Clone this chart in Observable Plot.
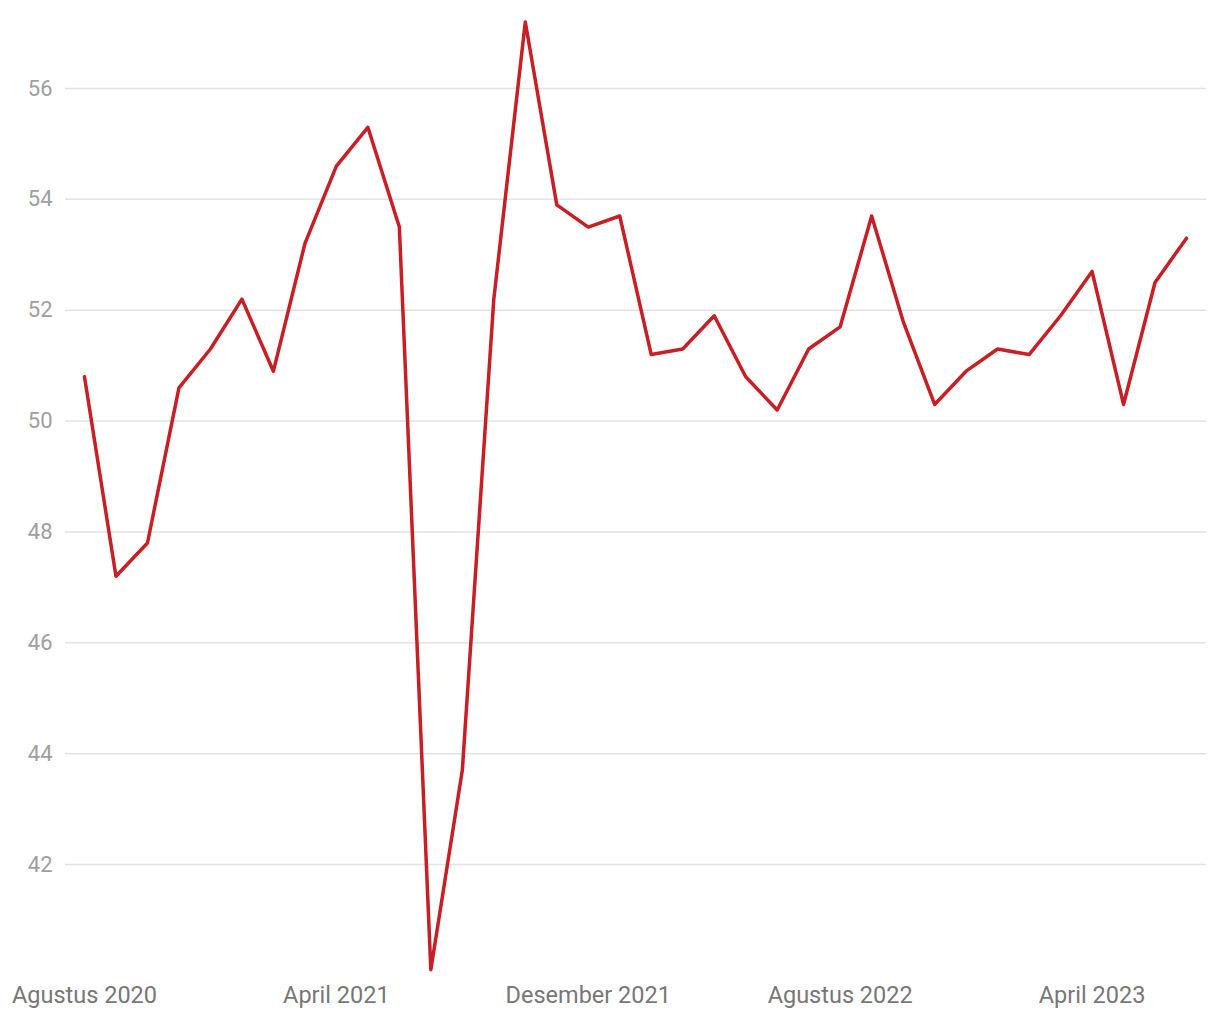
<!DOCTYPE html>
<html>
<head>
<meta charset="utf-8">
<script src="https://cdn.jsdelivr.net/npm/d3@7"></script>
<script src="https://cdn.jsdelivr.net/npm/@observablehq/plot@0.6"></script>
<style>
  html, body { margin: 0; padding: 0; background: #fff; }
  #chart { width: 1220px; height: 1020px; }
  svg { font-family: Roboto, sans-serif; }
</style>
</head>
<body>
<div id="chart"></div>
<script>
const months = [
  "Agustus 2020","September 2020","Oktober 2020","November 2020","Desember 2020",
  "Januari 2021","Februari 2021","Maret 2021","April 2021","Mei 2021","Juni 2021","Juli 2021",
  "Agustus 2021","September 2021","Oktober 2021","November 2021","Desember 2021",
  "Januari 2022","Februari 2022","Maret 2022","April 2022","Mei 2022","Juni 2022","Juli 2022",
  "Agustus 2022","September 2022","Oktober 2022","November 2022","Desember 2022",
  "Januari 2023","Februari 2023","Maret 2023","April 2023","Mei 2023","Juni 2023","Juli 2023"
];
const values = [
  50.8, 47.2, 47.8, 50.6, 51.3,
  52.2, 50.9, 53.2, 54.6, 55.3, 53.5, 40.1,
  43.7, 52.2, 57.2, 53.9, 53.5,
  53.7, 51.2, 51.3, 51.9, 50.8, 50.2, 51.3,
  51.7, 53.7, 51.8, 50.3, 50.9,
  51.3, 51.2, 51.9, 52.7, 50.3, 52.5, 53.3
];
const yTicks = [42, 44, 46, 48, 50, 52, 54, 56];
const xTickIdx = [0, 8, 16, 24, 32];

const data = months.map((m, i) => ({i, month: m, value: values[i]}));

const chart = Plot.plot({
  width: 1220,
  height: 1020,
  marginLeft: 65,
  marginRight: 14,
  marginTop: 21.5,
  marginBottom: 50.7,
  style: {fontFamily: "Roboto, sans-serif", background: "#fff"},
  x: {type: "linear", domain: [-0.603, 35.635]},
  y: {domain: [40.1, 57.2]},
  marks: [
    Plot.ruleY(yTicks, {stroke: "#e3e3e3", strokeWidth: 1.5}),
    Plot.axisY({ticks: yTicks, tickSize: 0, tickPadding: 13, fontSize: 22, fill: "#9e9e9e", label: null}),
    Plot.axisX({ticks: xTickIdx, tickSize: 0, tickPadding: 17, fontSize: 23.5, fill: "#777", label: null,
      tickFormat: i => months[i]}),
    Plot.line(data, {x: "i", y: "value", stroke: "#c81e24", strokeWidth: 3.5, strokeLinejoin: "round"})
  ]
});
document.getElementById("chart").appendChild(chart);
</script>
</body>
</html>
